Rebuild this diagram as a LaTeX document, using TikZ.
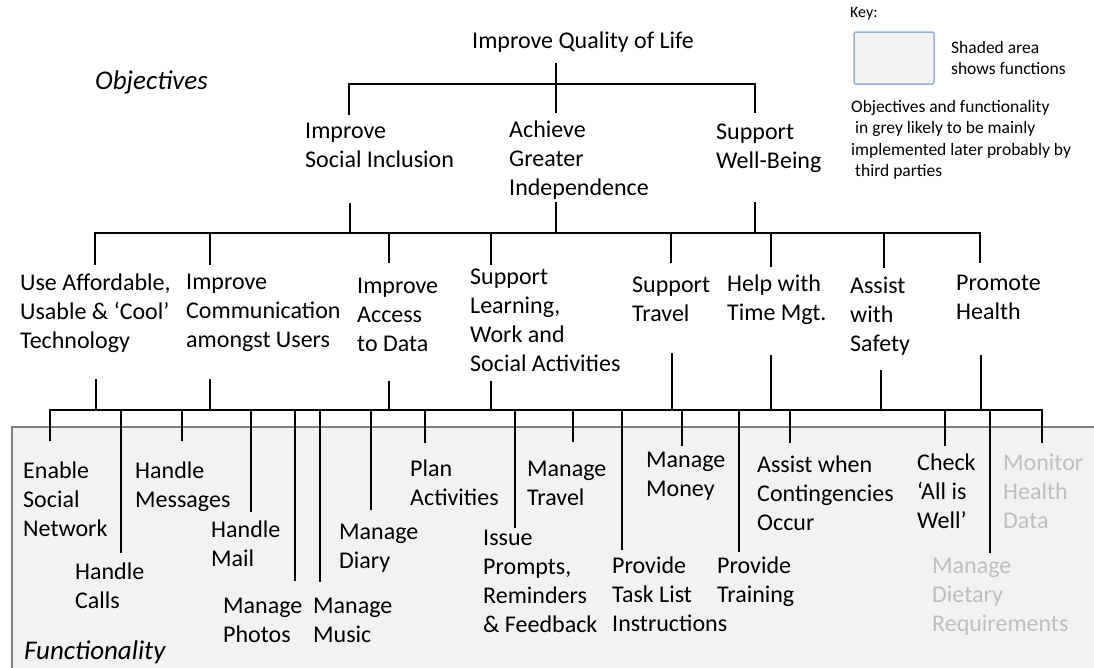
\documentclass[tikz,border=0pt]{standalone}
\usepackage{fontspec}
\setmainfont{Carlito}
\usetikzlibrary{calc}

\definecolor{funcfill}{HTML}{F2F2F2}
\definecolor{fadedgrey}{HTML}{BFBFBF}
\definecolor{keyedge}{HTML}{95B3D7}
\definecolor{boxedge}{HTML}{7F7F7F}

\tikzset{
  link/.style={line width=2.4pt},
  lbl/.style={anchor=north west, inner sep=0pt, align=left,
    font=\fontsize{24}{29}\selectfont},
  faded/.style={lbl, text=fadedgrey},
  heading/.style={anchor=north west, inner sep=0pt,
    font=\fontsize{27}{32}\selectfont\itshape},
  keytext/.style={anchor=north west, inner sep=0pt, align=left,
    font=\fontsize{17.5}{21.5}\selectfont},
  keybox/.style={draw=keyedge, fill=funcfill, line width=1.5pt,
    rounded corners=2pt, minimum width=80pt, minimum height=52pt},
}

\begin{document}
\begin{tikzpicture}[x=1pt, y=-1pt]
      \useasboundingbox (0,0) rectangle (1094,667);

      % shaded functions area
      \filldraw[fill=funcfill, draw=boxedge, line width=1.2pt] (12,427) rectangle (1120,700);

      % key
      \node[keytext, font=\fontsize{16}{20}\selectfont] (keyhead) at (850,7) {Key:};
      \node[keybox] (keysample) at (894,58) {};
      \node[keytext] (keyshade) at (951,41) {Shaded area\\shows functions};
      \node[keytext] (keynote) at (851,100) {Objectives and functionality\\
        \hspace*{4pt}in grey likely to be mainly\\
        implemented later probably by\\
        \hspace*{4pt}third parties};

      % objectives
      \node[heading] (objhead) at (95,71) {Objectives};
      \node[lbl] (qol) at (472,32) {Improve Quality of Life};

      \node[lbl] (social) at (305,123) {Improve\\Social Inclusion};
      \node[lbl] (indep) at (509,121) {Achieve\\Greater\\Independence};
      \node[lbl] (wellbeing) at (716,124) {Support\\Well-Being};

      \node[lbl] (tech) at (20,274) {Use Affordable,\\Usable \& ‘Cool’\\Technology};
      \node[lbl] (comms) at (186,274) {Improve\\Communication\\amongst Users};
      \node[lbl] (access) at (357,278) {Improve\\Access\\to Data};
      \node[lbl] (learning) at (470,269) {Support\\Learning,\\Work and\\Social Activities};
      \node[lbl] (travel) at (632,277) {Support\\Travel};
      \node[lbl] (timemgt) at (727,275) {Help with\\Time Mgt.};
      \node[lbl] (safety) at (850,277) {Assist\\with\\Safety};
      \node[lbl] (health) at (956,275) {Promote\\Health};

      % functionality
      \node[lbl] (enable) at (23,462) {Enable\\Social\\Network};
      \node[lbl] (calls) at (75,563) {Handle\\Calls};
      \node[lbl] (messages) at (135,462) {Handle\\Messages};
      \node[lbl] (mail) at (211,521) {Handle\\Mail};
      \node[lbl] (photos) at (223,598) {Manage\\Photos};
      \node[lbl] (music) at (313,598) {Manage\\Music};
      \node[lbl] (diary) at (339,524) {Manage\\Diary};
      \node[lbl] (plan) at (410,460) {Plan\\Activities};
      \node[lbl] (prompts) at (483,530) {Issue\\Prompts,\\Reminders\\\& Feedback};
      \node[lbl] (mtravel) at (527,461) {Manage\\Travel};
      \node[lbl] (money) at (646,452) {Manage\\Money};
      \node[lbl] (tasklist) at (612,557) {Provide\\Task List\\Instructions};
      \node[lbl] (training) at (717,557) {Provide\\Training};
      \node[lbl] (conting) at (757,456) {Assist when\\Contingencies\\Occur};
      \node[lbl] (check) at (917,454) {Check\\‘All is\\Well’};
      \node[faded] (monitor) at (1003,454) {Monitor\\Health\\Data};
      \node[faded] (dietary) at (932,558) {Manage\\Dietary\\Requirements};
      \node[heading] (funchead) at (24,641) {Functionality};

      % bus heights
      \coordinate (bus1) at (0,84);
      \coordinate (bus2) at (0,233);
      \coordinate (bus3) at (0,410);

      % line ends above and below the texts
      \coordinate (qol-out) at (556,63);
      \coordinate (social-in) at (349,115);
      \coordinate (indep-in) at (556,113);
      \coordinate (wellbeing-in) at (755,113);
      \coordinate (social-out) at (350,203);
      \coordinate (indep-out) at (556,202);
      \coordinate (wellbeing-out) at (755,202);

      \coordinate (tech-in) at (95,265);
      \coordinate (comms-in) at (210,265);
      \coordinate (access-in) at (389,263);
      \coordinate (learning-in) at (491,265);
      \coordinate (travel-in) at (671,263);
      \coordinate (timemgt-in) at (771,267);
      \coordinate (safety-in) at (884,268);
      \coordinate (health-in) at (980,263);
      \coordinate (tech-out) at (96,379);
      \coordinate (comms-out) at (210,379);
      \coordinate (access-out) at (389,381);
      \coordinate (learning-out) at (491,381);
      \coordinate (travel-out) at (672,353);
      \coordinate (timemgt-out) at (771,355);
      \coordinate (safety-out) at (881,370);
      \coordinate (health-out) at (981,355);

      \coordinate (enable-in) at (50,441);
      \coordinate (calls-in) at (121,553);
      \coordinate (messages-in) at (182,441);
      \coordinate (mail-in) at (251,512);
      \coordinate (photos-in) at (295,581);
      \coordinate (music-in) at (320,582);
      \coordinate (diary-in) at (371,510);
      \coordinate (plan-in) at (425,443);
      \coordinate (prompts-in) at (515,528);
      \coordinate (mtravel-in) at (573,442);
      \coordinate (tasklist-in) at (622,550);
      \coordinate (money-in) at (682,446);
      \coordinate (training-in) at (739,552);
      \coordinate (conting-in) at (790,443);
      \coordinate (check-in) at (945,446);
      \coordinate (dietary-in) at (990,553);
      \coordinate (monitor-in) at (1042,443);

      % quality of life -> objectives
      \draw[link] (social-in) -- (social-in |- bus1) -- (wellbeing-in |- bus1) -- (wellbeing-in);
      \draw[link] (qol-out) -- (indep-in);

      % objectives -> sub-objectives
      \draw[link] (tech-in) -- (tech-in |- bus2) -- (health-in |- bus2) -- (health-in);
      \foreach \n in {social,indep,wellbeing}
        \draw[link] (\n-out) -- (\n-out |- bus2);
      \foreach \n in {comms,access,learning,travel,timemgt,safety}
        \draw[link] (\n-in) -- (\n-in |- bus2);

      % sub-objectives -> functions
      \draw[link] (enable-in) -- (enable-in |- bus3) -- (monitor-in |- bus3) -- (monitor-in);
      \foreach \n in {tech,comms,access,learning,travel,timemgt,safety,health}
        \draw[link] (\n-out) -- (\n-out |- bus3);
      \foreach \n in {calls,messages,mail,photos,music,diary,plan,prompts,
          mtravel,tasklist,money,training,conting,check,dietary}
        \draw[link] (\n-in) -- (\n-in |- bus3);
\end{tikzpicture}
\end{document}
